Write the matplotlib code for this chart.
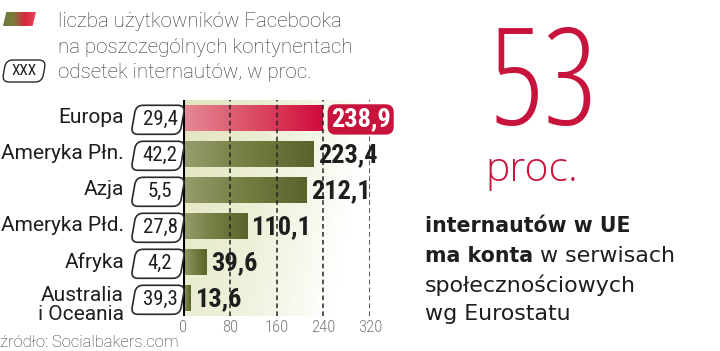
import numpy as np
import matplotlib
matplotlib.use('Agg')
import matplotlib.pyplot as plt
from matplotlib.patches import FancyBboxPatch, Polygon
from matplotlib.transforms import Affine2D, ScaledTranslation, blended_transform_factory
from matplotlib.colors import LinearSegmentedColormap

# data
continents = ['Europa', 'Ameryka Płn.', 'Azja', 'Ameryka Płd.', 'Afryka', 'Australia\ni Oceania']
users = [238.9, 223.4, 212.1, 110.1, 39.6, 13.6]          # mln uzytkownikow Facebooka
users_lbl = ['238,9', '223,4', '212,1', '110,1', '39,6', '13,6']
share_lbl = ['29,4', '42,2', '5,5', '27,8', '4,2', '39,3']  # odsetek internautow
xticks = [0, 80, 160, 240, 320]

RED = '#c8143c'
DARK = '#1e1e1e'
W, H = 720, 351

fig = plt.figure(figsize=(7.2, 3.51), dpi=100)
ax = fig.add_axes([183 / W, 1 - 316 / H, 187 / W, 216 / H])

# background gradient (beige -> white)
X, Y = np.meshgrid(np.linspace(0, 1, 300), np.linspace(0, 1, 120))
t = np.clip(X ** 1.5 + 0.3 * Y, 0, 1)[..., None]
beige = np.array([0.89, 0.90, 0.75])
bg = beige * (1 - t) + np.ones(3) * t
ax.imshow(bg, extent=(0, 320, 5.5, -0.5), origin='upper', aspect='auto', zorder=0)

# bars with gradient
cm_green = LinearSegmentedColormap.from_list('g', ['#979d6e', '#747d42', '#5a632a'])
cm_red = LinearSegmentedColormap.from_list('r', ['#e48b97', '#db4d64', '#d00b3b'])
grad = np.linspace(0, 1, 256).reshape(1, -1)
bars = ax.barh(range(len(users)), users, height=0.72, color='none', zorder=1)
for i, b in enumerate(bars):
    x0, y0, w, h = b.get_x(), b.get_y(), b.get_width(), b.get_height()
    im = ax.imshow(grad, cmap=cm_red if i == 0 else cm_green,
                   extent=(x0, x0 + w, y0 + h, y0), aspect='auto', zorder=1)
    im.set_clip_path(b)

# grid on top of bars
for v in xticks[1:]:
    ax.axvline(v, color='#222222', lw=1.1, ls=(0, (3, 2.2)), zorder=2)

ax.axvline(0, color='black', lw=2.2, zorder=3)

# value labels
for i, (v, s) in enumerate(zip(users, users_lbl)):
    if i == 0:
        ax.text(v + 14, i + 0.04, s, ha='left', va='center', color='white',
                family='Roboto Condensed', weight='bold', fontsize=19, clip_on=False, zorder=4,
                bbox=dict(boxstyle='round,pad=0.12,rounding_size=0.3', fc=RED, ec='none'))
    else:
        ax.text(v + 8, i + 0.04, s, ha='left', va='center', color=DARK,
                family='Roboto Condensed', weight='bold', fontsize=19, clip_on=False, zorder=4)

ax.set_xlim(0, 320)
ax.set_ylim(5.5, -0.5)
ax.set_xticks(xticks)
ax.set_xticklabels([str(v) for v in xticks], family='Roboto Condensed', weight='light',
                   fontsize=12, color='#7a7a7a')
ax.tick_params(axis='x', length=0, pad=3)
ax.set_yticks([])
for sp in ax.spines.values():
    sp.set_visible(False)

# category labels
for i, c in enumerate(continents):
    dy = 0.2 if '\n' in c else 0.0
    ax.text(-(183 - 124) / 0.584, i + dy, c, ha='right', va='center', color=DARK,
            family='Roboto', fontsize=15, linespacing=1.0, clip_on=False)


def slant_box(xc, yc, w, h, trans, lw=1.2):
    tr = (Affine2D().skew_deg(10, 0) + fig.dpi_scale_trans +
          ScaledTranslation(xc, yc, trans))
    p = FancyBboxPatch((-w / 2, -h / 2), w, h, boxstyle='round,pad=0,rounding_size=0.07',
                       transform=tr, fc='white', ec='#2a2a2a', lw=lw, zorder=1)
    fig.add_artist(p)


# boxes with share of internet users
bt = blended_transform_factory(fig.transFigure, ax.transData)
for i, s in enumerate(share_lbl):
    yc = i + 0.05
    slant_box(158 / W, yc, 0.49, 0.29, bt)
    fig.text(160 / W, yc, s, transform=bt, ha='center', va='center', color=DARK,
             family='Roboto Condensed', fontsize=15, zorder=3)

# legend
lax = fig.add_axes([3 / W, 1 - 26 / H, 33 / W, 14 / H])
lax.axis('off')
cm_leg = LinearSegmentedColormap.from_list('l', ['#6a7a38', '#7d7a3c', '#d8283f', '#e3485c'])
lim = lax.imshow(grad, cmap=cm_leg, extent=(0, 1, 0, 1), aspect='auto')
clip = Polygon([(0, 0), (0.9, 0), (1, 1), (0.1, 1)], transform=lax.transAxes)
lim.set_clip_path(clip)

slant_box(24 / W, 1 - 71 / H, 0.40, 0.22, fig.transFigure, lw=1.0)
fig.text(24 / W, 1 - 71 / H, 'XXX', ha='center', va='center', color=DARK,
         family='Roboto Condensed', fontsize=11, zorder=3)

leg_lines = ['liczba użytkowników Facebooka', 'na poszczególnych kontynentach',
             'odsetek internautów, w proc.']
for s, yb in zip(leg_lines, [27, 53, 78]):
    fig.text(58 / W, 1 - yb / H, s, ha='left', va='baseline', color='#333333',
             family='Roboto', weight='light', fontsize=14.8)

fig.text(0, 1 - 347 / H, 'źródło: Socialbakers.com', ha='left', va='baseline',
         color='#333333', family='Roboto', weight='light', fontsize=12)

# right panel
fig.text(543 / W, 1 - 125 / H, '53', ha='center', va='baseline', color=RED,
         family='Open Sans', fontstretch='condensed', weight=300, fontsize=97)
fig.text(485 / W, 1 - 181 / H, 'proc.', ha='left', va='baseline', color=RED,
         family='Open Sans', weight=300, fontsize=29.5)

fig.canvas.draw()
rend = fig.canvas.get_renderer()
x0 = 425 / W
fs_b, fs_r = 14.8, 15.9
fig.text(x0, 1 - 232 / H, 'internautów w UE', ha='left', va='baseline', color=DARK,
         family='DejaVu Sans', weight='bold', fontsize=fs_b)
tb = fig.text(x0, 1 - 262 / H, 'ma konta', ha='left', va='baseline', color=DARK,
              family='DejaVu Sans', weight='bold', fontsize=fs_b)
ext = tb.get_window_extent(rend)
fig.text(ext.x1 / W, 1 - 262 / H, ' w serwisach', ha='left', va='baseline', color=DARK,
         family='DejaVu Sans', fontsize=fs_r)
fig.text(x0, 1 - 292 / H, 'społecznościowych', ha='left', va='baseline', color=DARK,
         family='DejaVu Sans', fontsize=fs_r)
fig.text(x0, 1 - 320 / H, 'wg Eurostatu', ha='left', va='baseline', color=DARK,
         family='DejaVu Sans', fontsize=fs_r)

fig.savefig('out.png', dpi=100)
